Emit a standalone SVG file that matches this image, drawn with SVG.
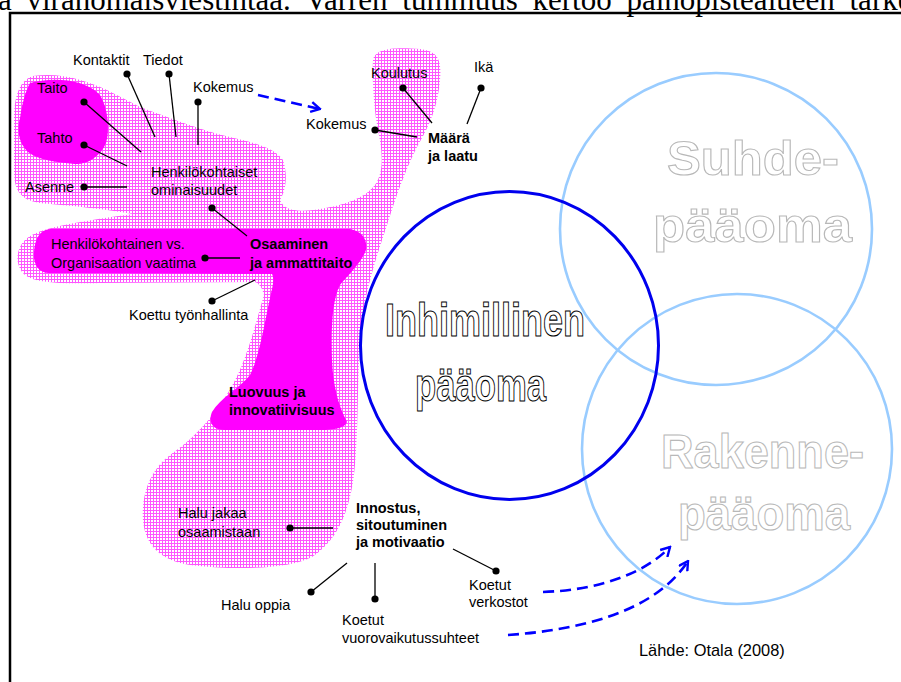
<svg xmlns="http://www.w3.org/2000/svg" width="901" height="682" viewBox="0 0 901 682">
  <defs>
    <!-- fine crosshatch used for the soft pink areas -->
    <pattern id="hatch" x="0" y="0" width="3" height="3" patternUnits="userSpaceOnUse">
      <rect width="3" height="3" fill="#ffffff"/>
      <rect width="3" height="1" fill="#ff55ff" shape-rendering="crispEdges"/>
      <rect width="1" height="3" fill="#ff55ff" shape-rendering="crispEdges"/>
    </pattern>
    <marker id="chev" viewBox="0 0 12 12" refX="10.5" refY="6" markerWidth="12" markerHeight="12" markerUnits="userSpaceOnUse" orient="auto">
      <path d="M1.5,1 L10.5,6 L1.5,11" fill="none" stroke="#0000ff" stroke-width="2.4"/>
    </marker>
  </defs>
  <style>
    .lbl { font-family: "Liberation Sans", Arial, sans-serif; font-size: 14.5px; fill: #000; }
    .b { font-weight: bold; }
    .lead { stroke: #000; stroke-width: 1.3; fill: none; }
    .dot { fill: #000; }
    .dash { fill: none; stroke: #0000ff; stroke-width: 2.6; stroke-dasharray: 11 6; }
    .big { font-family: "Liberation Sans", Arial, sans-serif; font-weight: bold; }
    .dark { fill: #fff; stroke: #000; stroke-width: 1.1; }
    .pale { fill: #fff; stroke: #b8b8b8; stroke-width: 1.1; }
  </style>

  <rect width="901" height="682" fill="#fff"/>

  <!-- running text of the page, cut by the top edge -->
  <text x="-2" y="10" font-family="'Liberation Serif', 'Times New Roman', serif" font-size="31" word-spacing="7" fill="#000">a viranomaisviestintää. Varren tummuus kertoo painopistealueen tarkeydestä</text>

  <!-- page frame -->
  <rect x="10" y="13" width="1000" height="1000" fill="none" stroke="#000" stroke-width="2.5"/>

  <!-- soft pink field -->
  <g id="field">
    <path fill="url(#hatch)" d="M33,76 C60,72 85,80 107,90 L140,107 C170,118 200,130 230,137 C255,143 275,148 283,160 C288,175 286,190 280,200 C285,212 300,212 320,209 C345,205 365,198 375,185 C385,170 382,150 378,130 C374,110 372,80 373,60 C375,48 395,47 420,49 C438,51 442,60 440,80 C438,105 430,125 418,145 C405,170 395,200 387,225 C377,255 367,285 362,320 C357,360 359,420 355,465 C351,510 338,540 312,557 C287,570 230,570 190,565 C160,560 145,545 143,520 C141,495 150,470 170,455 C200,435 228,400 242,365 C252,340 258,315 264,295 C262,288 260,284 255,282 L100,283 C60,284 35,283 25,275 C15,266 15,250 25,240 C35,230 60,224 133,214 C100,208 60,205 40,203 C20,200 14,190 14,170 L14,120 C14,95 20,80 33,76 Z"/>
  </g>

  <!-- solid magenta cores -->
  <g id="core-personal">
    <path fill="#ff00ff" d="M30,83 C50,77 85,78 100,95 C108,108 110,130 106,143 C100,158 85,165 75,164 C55,162 38,160 28,152 C18,143 17,128 20,118 C22,105 25,92 30,83 Z"/>
  </g>
  <g id="core-skill">
    <path fill="#ff00ff" d="M50,229 L350,229 C362,231 368,240 366,250 C362,262 348,275 340,285 C332,300 331,330 332,360 C333,385 338,405 347,422 C345,428 335,430 320,430 L225,430 C212,430 208,422 212,412 C220,398 240,388 250,375 C260,355 265,320 270,298 C272,288 275,280 272,274 L48,273 C38,272 33,264 34,252 C35,238 40,230 50,229 Z"/>
  </g>

  <!-- capital circles -->
  <g id="suhde">
    <circle cx="716" cy="229" r="156" fill="none" stroke="#99ccff" stroke-width="2.6"/>
    <text class="big pale" x="667" y="175" font-size="49" textLength="172" lengthAdjust="spacingAndGlyphs">Suhde-</text>
    <text class="big pale" x="653" y="242" font-size="49" textLength="199" lengthAdjust="spacingAndGlyphs">pääoma</text>
  </g>
  <g id="rakenne">
    <circle cx="737" cy="449" r="155" fill="none" stroke="#99ccff" stroke-width="2.6"/>
    <text class="big pale" x="661" y="468" font-size="49" textLength="203" lengthAdjust="spacingAndGlyphs">Rakenne-</text>
    <text class="big pale" x="678" y="530" font-size="49" textLength="172" lengthAdjust="spacingAndGlyphs">pääoma</text>
  </g>
  <g id="inhimillinen">
    <ellipse cx="509.5" cy="345.5" rx="149" ry="154" fill="none" stroke="#0000ee" stroke-width="3"/>
    <text class="big dark" x="385" y="336" font-size="47" textLength="200" lengthAdjust="spacingAndGlyphs">Inhimillinen</text>
    <text class="big dark" x="415" y="401" font-size="47" textLength="131" lengthAdjust="spacingAndGlyphs">pääoma</text>
  </g>

  <!-- leader lines -->
  <g id="leaders">
    <line class="lead" x1="127" y1="74" x2="155" y2="137"/>
    <line class="lead" x1="169" y1="74" x2="176" y2="137"/>
    <line class="lead" x1="198" y1="102" x2="198" y2="145"/>
    <line class="lead" x1="84" y1="102" x2="141" y2="152"/>
    <line class="lead" x1="84" y1="145" x2="127" y2="166"/>
    <line class="lead" x1="84" y1="187" x2="127" y2="187"/>
    <line class="lead" x1="403" y1="88" x2="432" y2="123"/>
    <line class="lead" x1="481" y1="88" x2="467" y2="124"/>
    <line class="lead" x1="375" y1="130" x2="417" y2="137"/>
    <line class="lead" x1="212" y1="208" x2="247" y2="236"/>
    <line class="lead" x1="205" y1="258" x2="240" y2="258"/>
    <line class="lead" x1="212" y1="301" x2="255" y2="280"/>
    <line class="lead" x1="290" y1="528" x2="333" y2="528"/>
    <line class="lead" x1="311" y1="592" x2="347" y2="563"/>
    <line class="lead" x1="375" y1="599" x2="375" y2="563"/>
    <line class="lead" x1="496" y1="571" x2="453" y2="549"/>
    <g class="dot">
      <circle cx="127" cy="74" r="3.6"/>
      <circle cx="169" cy="74" r="3.6"/>
      <circle cx="198" cy="102" r="3.6"/>
      <circle cx="84" cy="102" r="3.6"/>
      <circle cx="84" cy="145" r="3.6"/>
      <circle cx="84" cy="187" r="3.6"/>
      <circle cx="403" cy="88" r="3.6"/>
      <circle cx="481" cy="88" r="3.6"/>
      <circle cx="375" cy="130" r="3.6"/>
      <circle cx="212" cy="208" r="3.6"/>
      <circle cx="205" cy="258" r="3.6"/>
      <circle cx="212" cy="301" r="3.6"/>
      <circle cx="290" cy="528" r="3.6"/>
      <circle cx="311" cy="592" r="3.6"/>
      <circle cx="375" cy="599" r="3.6"/>
      <circle cx="496" cy="571" r="3.6"/>
    </g>
  </g>

  <!-- dashed transfer arrows -->
  <g id="arrows">
    <path class="dash" d="M258,95 L320,109" marker-end="url(#chev)"/>
    <path class="dash" d="M543,592 C600,590 645,573 670,547" marker-end="url(#chev)"/>
    <path class="dash" d="M508,635 C580,630 655,612 688,561" marker-end="url(#chev)"/>
  </g>

  <!-- labels -->
  <g id="labels" class="lbl">
    <text x="73" y="65">Kontaktit</text>
    <text x="143" y="65">Tiedot</text>
    <text x="193" y="92">Kokemus</text>
    <text x="37" y="93">Taito</text>
    <text x="37" y="143">Tahto</text>
    <text x="25" y="192">Asenne</text>
    <text x="151" y="177">Henkilökohtaiset</text>
    <text x="151" y="195">ominaisuudet</text>
    <text x="371" y="78">Koulutus</text>
    <text x="306" y="129">Kokemus</text>
    <text x="474" y="72">Ikä</text>
    <text class="b" x="428" y="143">Määrä</text>
    <text class="b" x="428" y="161">ja laatu</text>
    <text x="51" y="249">Henkilökohtainen vs.</text>
    <text x="51" y="268">Organisaation vaatima</text>
    <text class="b" x="250" y="249">Osaaminen</text>
    <text class="b" x="250" y="268">ja ammattitaito</text>
    <text x="129" y="320">Koettu työnhallinta</text>
    <text class="b" x="229" y="397">Luovuus ja</text>
    <text class="b" x="229" y="415">innovatiivisuus</text>
    <text x="178" y="518">Halu jakaa</text>
    <text x="178" y="537">osaamistaan</text>
    <text class="b" x="356" y="513">Innostus,</text>
    <text class="b" x="356" y="530">sitoutuminen</text>
    <text class="b" x="356" y="547">ja motivaatio</text>
    <text x="221" y="610">Halu oppia</text>
    <text x="342" y="625">Koetut</text>
    <text x="342" y="643">vuorovaikutussuhteet</text>
    <text x="469" y="590">Koetut</text>
    <text x="469" y="607">verkostot</text>
    <text x="639" y="656" font-size="16.4">Lähde: Otala (2008)</text>
  </g>
</svg>
